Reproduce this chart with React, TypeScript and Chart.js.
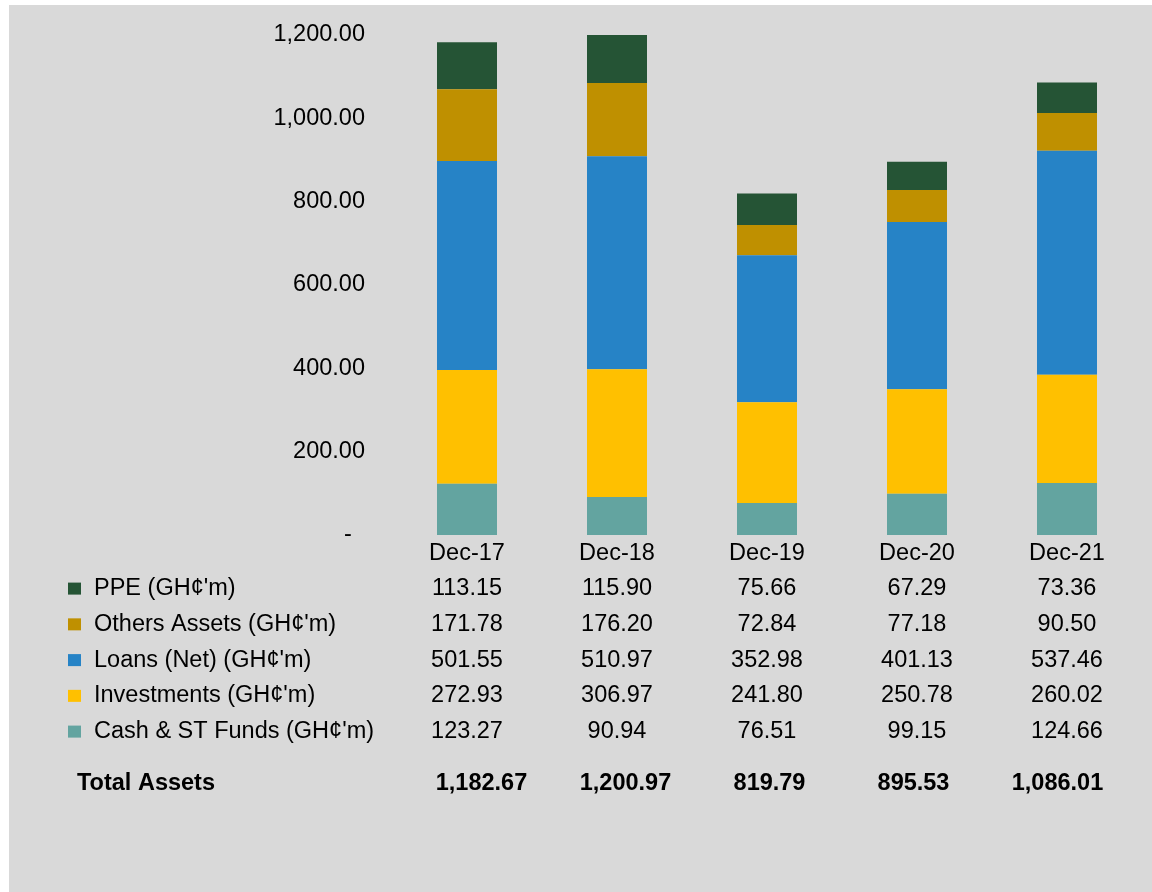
import React, { useEffect, useRef } from "react";
import { Chart, registerables } from "chart.js";

Chart.register(...registerables);

const categories = ["Dec-17", "Dec-18", "Dec-19", "Dec-20", "Dec-21"];
const ppe = [113.15, 115.9, 75.66, 67.29, 73.36];
const othersAssets = [171.78, 176.2, 72.84, 77.18, 90.5];
const loansNet = [501.55, 510.97, 352.98, 401.13, 537.46];
const investments = [272.93, 306.97, 241.8, 250.78, 260.02];
const cashStFunds = [123.27, 90.94, 76.51, 99.15, 124.66];
const totalAssets = [1182.67, 1200.97, 819.79, 895.53, 1086.01];
const yTicks = [0, 200, 400, 600, 800, 1000, 1200];

const seriesNames = [
  "PPE (GH\u00a2'm)",
  "Others Assets (GH\u00a2'm)",
  "Loans (Net) (GH\u00a2'm)",
  "Investments (GH\u00a2'm)",
  "Cash & ST Funds (GH\u00a2'm)",
];
const seriesColors = ["#255435", "#bf9000", "#2683c6", "#ffc000", "#63a4a0"];
const seriesValues = [ppe, othersAssets, loansNet, investments, cashStFunds];

const FONT = "'Liberation Sans', Arial, sans-serif";
const FS = 23.5;

const fmt = (v: number) =>
  v.toLocaleString("en-US", { minimumFractionDigits: 2, maximumFractionDigits: 2 });

const tablePlugin = {
  id: "dataTable",
  afterDraw(chart: any) {
    const ctx = chart.ctx;
    const xs = chart.scales.x;
    ctx.save();
    ctx.fillStyle = "#000";
    ctx.textBaseline = "alphabetic";
    ctx.font = `${FS}px ${FONT}`;
    for (let r = 0; r < seriesNames.length; r++) {
      const base = 590 + 35.75 * r;
      const mid = base - 8.4;
      ctx.fillStyle = seriesColors[r];
      ctx.fillRect(59, mid - 4, 13, 12);
      ctx.fillStyle = "#000";
      ctx.textAlign = "left";
      ctx.fillText(seriesNames[r], 85, base);
      ctx.textAlign = "center";
      seriesValues[r].forEach((v, i) => {
        ctx.fillText(fmt(v), xs.getPixelForValue(i), base);
      });
    }
    const tb = 784.7;
    ctx.font = `bold ${FS}px ${FONT}`;
    ctx.textAlign = "left";
    ctx.fillText("Total Assets", 68, tb);
    ctx.textAlign = "center";
    totalAssets.forEach((v, i) => {
      const cx = xs.getPixelForValue(i);
      ctx.fillText(fmt(v), cx + 14.5 - 6 * i, tb);
    });
    ctx.restore();
  },
};

export default function App() {
  const ref = useRef<HTMLCanvasElement>(null);
  useEffect(() => {
    if (!ref.current) return;
    const datasets = [4, 3, 2, 1, 0].map((k) => ({
      label: seriesNames[k],
      data: seriesValues[k],
      backgroundColor: seriesColors[k],
      borderWidth: 0,
      barPercentage: 0.4,
      categoryPercentage: 1,
    }));
    const chart = new Chart(ref.current, {
      type: "bar",
      data: { labels: categories, datasets },
      options: {
        animation: false,
        responsive: false,
        layout: { padding: { top: 30, right: 10, left: 0, bottom: 0 } },
        plugins: { legend: { display: false }, tooltip: { enabled: false } },
        scales: {
          x: {
            stacked: true,
            grid: { display: false, drawTicks: false },
            border: { display: false },
            ticks: { color: "#000", font: { family: FONT, size: FS }, padding: 4, maxRotation: 0 },
            afterFit: (s: any) => {
              s.height = 357;
            },
          },
          y: {
            stacked: true,
            min: 0,
            max: 1200,
            clip: false,
            grid: { display: false, drawTicks: false },
            border: { display: false },
            afterBuildTicks: (s: any) => {
              s.ticks = yTicks.map((v) => ({ value: v }));
            },
            ticks: {
              color: "#000",
              font: { family: FONT, size: FS },
              padding: 27,
              callback: (v: any) => (Number(v) === 0 ? "-  " : fmt(Number(v))),
            },
            afterFit: (s: any) => {
              s.width = 383;
              s.paddingTop = 0;
              s.paddingBottom = 0;
            },
          },
        },
      },
      plugins: [tablePlugin],
    } as any);
    return () => chart.destroy();
  }, []);
  return (
    <div
      style={{
        position: "absolute",
        left: 9,
        top: 5,
        width: 1143,
        height: 887,
        background: "#d9d9d9",
      }}
    >
      <canvas ref={ref} width={1143} height={887} style={{ display: "block" }} />
    </div>
  );
}
